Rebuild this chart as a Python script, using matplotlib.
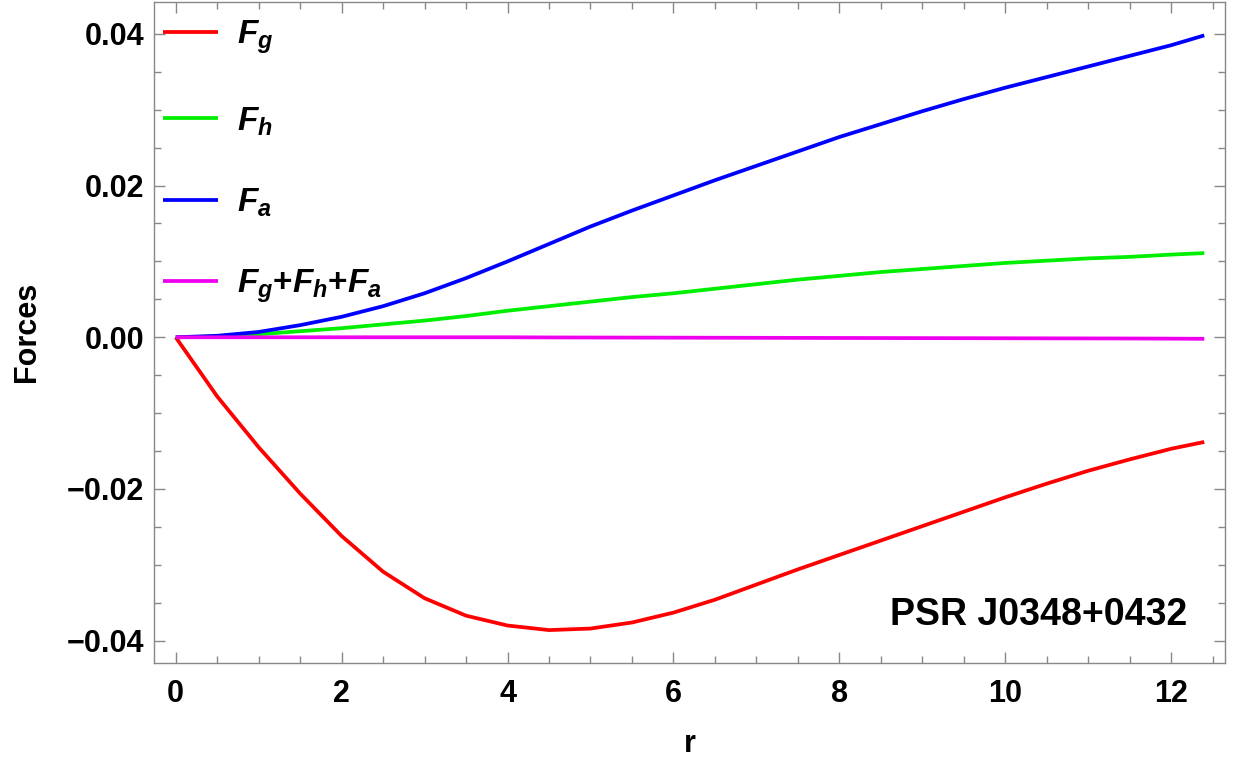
import matplotlib
matplotlib.use("Agg")
import matplotlib.pyplot as plt
from matplotlib.ticker import MultipleLocator

plt.rcParams.update({
    'font.family': 'Liberation Sans',
    'font.weight': 'bold',
    'mathtext.fontset': 'custom',
    'mathtext.it': 'Liberation Sans:italic:bold',
    'mathtext.rm': 'Liberation Sans:bold',
    'mathtext.bf': 'Liberation Sans:bold',
    'axes.unicode_minus': True,
})

# values
r = [0, 0.5, 1.0, 1.5, 2.0, 2.5, 3.0, 3.5, 4.0, 4.5, 5.0, 5.5, 6.0, 6.5,
     7.0, 7.5, 8.0, 8.5, 9.0, 9.5, 10.0, 10.5, 11.0, 11.5, 12.0, 12.4]
F_g = [0, -0.0078, -0.0145, -0.0206, -0.0262, -0.0309, -0.0344, -0.0367,
       -0.0380, -0.0386, -0.0384, -0.0376, -0.0363, -0.0346, -0.0326,
       -0.0306, -0.0287, -0.0268, -0.0249, -0.0230, -0.0211, -0.0193,
       -0.0176, -0.0161, -0.0147, -0.0138]
F_h = [0, 0.0001, 0.0004, 0.0008, 0.0012, 0.0017, 0.0022, 0.0028, 0.0035,
       0.0041, 0.0047, 0.0053, 0.0058, 0.0064, 0.0070, 0.0076, 0.0081,
       0.0086, 0.0090, 0.0094, 0.0098, 0.0101, 0.0104, 0.0106, 0.0109, 0.0111]
F_a = [0, 0.0002, 0.0007, 0.0016, 0.0027, 0.0041, 0.0058, 0.0078, 0.0100,
       0.0123, 0.0146, 0.0167, 0.0187, 0.0207, 0.0226, 0.0245, 0.0264,
       0.0281, 0.0298, 0.0314, 0.0329, 0.0343, 0.0357, 0.0371, 0.0385, 0.0398]
F_sum = [0, 0, 0, 0, 0, 0, 0, 0, 0, -0.00002, -0.00003, -0.00004, -0.00005,
         -0.00006, -0.00007, -0.00008, -0.00009, -0.0001, -0.00011, -0.00012,
         -0.00013, -0.00014, -0.00015, -0.00016, -0.00018, -0.0002]

fig = plt.figure(figsize=(12.46, 7.64), dpi=100)
ax = fig.add_axes([154/1246, 1 - 662.7/764, (1225 - 154)/1246, (662.7 - 2)/764])

lw = 2.7
style = dict(lw=lw, solid_joinstyle='round', solid_capstyle='butt')
ax.plot(r, F_g, color='#ff0000', label=r'$F_g$', **style)
ax.plot(r, F_h, color='#00ee00', label=r'$F_h$', **style)
ax.plot(r, F_a, color='#0000ff', label=r'$F_a$', **style)
ax.plot(r, F_sum, color='#ee00ee', label=r'$F_g$+$F_h$+$F_a$', **style)

ax.set_xlim(-0.262, 12.65)
ax.set_ylim(-0.0429, 0.0442)

ax.xaxis.set_major_locator(MultipleLocator(2))
ax.xaxis.set_minor_locator(MultipleLocator(0.5))
ax.yaxis.set_major_locator(MultipleLocator(0.02))
ax.yaxis.set_minor_locator(MultipleLocator(0.005))
ax.yaxis.set_major_formatter(plt.FuncFormatter(
    lambda v, p: ('\u2212' if v < -1e-9 else '') + '%.2f' % abs(v)))

ax.tick_params(which='both', direction='in', top=True, right=True,
               color='#888888', labelsize=22, width=1.0)
ax.tick_params(which='major', length=8)
ax.tick_params(which='minor', length=5)
ax.tick_params(axis='x', pad=12)
ax.tick_params(axis='y', pad=7)
for s in ax.spines.values():
    s.set_color('#888888')
    s.set_linewidth(1.0)

ax.set_xlabel('r', fontsize=22, fontweight='bold', labelpad=14)
ax.set_ylabel('Forces', fontsize=22, fontweight='bold', labelpad=18)

ax.legend(loc='upper left', bbox_to_anchor=(-0.004, 0.995), frameon=False,
          fontsize=24, handlelength=1.65, handletextpad=0.57, labelspacing=1.47,
          borderaxespad=0)

ax.text(0.965, 0.045, 'PSR J0348+0432', transform=ax.transAxes,
        ha='right', va='bottom', fontsize=27, fontweight='bold')

fig.savefig('out.png', dpi=100)
